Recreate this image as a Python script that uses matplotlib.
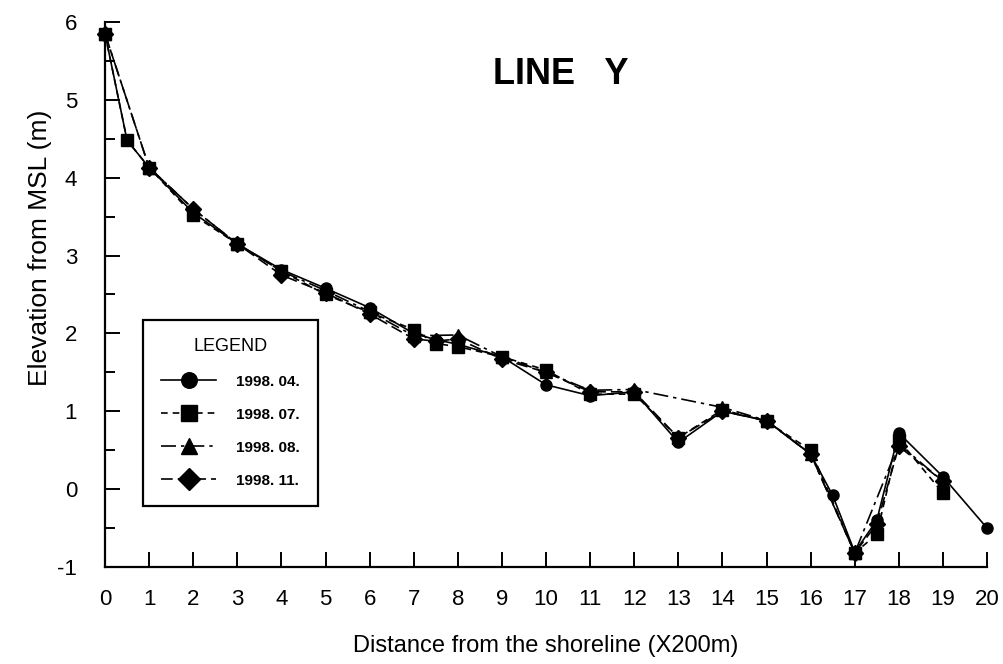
import matplotlib.pyplot as plt
from matplotlib.ticker import MultipleLocator

plt.rcParams['font.family'] = ['Liberation Sans', 'DejaVu Sans']
plt.rcParams['axes.unicode_minus'] = False

# Perfis de elevação ao longo da LINE Y (distância em unidades de 200 m)
x_0404 = [0, 0.5, 1, 2, 3, 4, 5, 6, 7, 7.5, 8, 9, 10, 11, 12, 13, 14, 15, 16, 16.5, 17, 17.5, 18, 19, 20]
y_0404 = [5.85, 4.48, 4.13, 3.55, 3.15, 2.82, 2.58, 2.33, 2.00, 1.92, 1.86, 1.70, 1.34, 1.20, 1.25,
          0.60, 1.00, 0.88, 0.45, -0.08, -0.81, -0.40, 0.72, 0.16, -0.50]

x_0707 = [0, 0.5, 1, 2, 3, 4, 5, 6, 7, 7.5, 8, 9, 10, 11, 12, 13, 14, 15, 16, 17, 17.5, 18, 19]
y_0707 = [5.85, 4.48, 4.13, 3.52, 3.15, 2.80, 2.50, 2.27, 2.05, 1.87, 1.83, 1.70, 1.53, 1.22,
          1.22, 0.66, 1.02, 0.87, 0.50, -0.82, -0.58, 0.63, -0.05]

x_0808 = [0, 1, 2, 3, 4, 5, 6, 7, 8, 9, 10, 11, 12, 14, 15, 16, 17, 18, 19]
y_0808 = [5.85, 4.13, 3.60, 3.15, 2.80, 2.55, 2.28, 1.97, 1.98, 1.70, 1.50, 1.27, 1.28,
          1.05, 0.88, 0.45, -0.82, 0.58, 0.10]

x_1111 = [0, 1, 2, 3, 4, 5, 6, 7, 7.5, 8, 9, 10, 11, 12, 13, 14, 15, 16, 17, 17.5, 18, 19]
y_1111 = [5.85, 4.13, 3.60, 3.15, 2.75, 2.52, 2.25, 1.93, 1.90, 1.93, 1.67, 1.50, 1.25, 1.25,
          0.66, 1.00, 0.88, 0.45, -0.82, -0.45, 0.55, 0.10]

fig = plt.figure(figsize=(10.04, 6.64), dpi=100)
ax = fig.add_axes([0.1046, 0.1461, 0.8785, 0.8208])

estilo = dict(color='black', lw=1.2, ms=8, clip_on=False)
ax.plot(x_0404, y_0404, marker='o', linestyle='-', label='1998. 04.', **estilo)
ax.plot(x_0808, y_0808, marker='^', linestyle=(0, (9, 3, 2, 3)), label='1998. 08.', **estilo)
ax.plot(x_1111, y_1111, marker='D', linestyle=(0, (7, 3)), label='1998. 11.', **estilo)
ax.plot(x_0707, y_0707, marker='s', linestyle=(0, (4, 3)), label='1998. 07.', **estilo)

ax.set_xlim(0, 20)
ax.set_ylim(-1, 6)
ax.xaxis.set_major_locator(MultipleLocator(1))
ax.yaxis.set_major_locator(MultipleLocator(1))
ax.yaxis.set_minor_locator(MultipleLocator(0.5))
ax.tick_params(axis='both', which='major', direction='in', length=11, width=1.4, labelsize=16)
ax.tick_params(axis='x', pad=16)
ax.tick_params(axis='y', pad=20)
ax.tick_params(axis='y', which='minor', direction='in', length=7, width=1.4)

for s in ['top', 'right']:
    ax.spines[s].set_visible(False)
for s in ['left', 'bottom']:
    ax.spines[s].set_linewidth(1.6)

ax.set_xlabel('Distance from the shoreline (X200m)', fontsize=17, labelpad=18)
ax.set_ylabel('Elevation from MSL (m)', fontsize=19)
ax.yaxis.set_label_coords(-0.06, 0.585)
ax.text(0.517, 0.903, 'LINE   Y', transform=ax.transAxes, fontsize=26, fontweight='bold',
        ha='center', va='center')

# Legenda na ordem das campanhas
h, l = ax.get_legend_handles_labels()
ordem = [0, 3, 1, 2]
leg = ax.legend([h[i] for i in ordem], [l[i] for i in ordem], title='LEGEND',
                loc='upper left', bbox_to_anchor=(0.043, 0.453),
                fancybox=False, framealpha=1, edgecolor='black',
                prop={'size': 11, 'weight': 'bold'}, title_fontsize=13,
                handlelength=3.6, handletextpad=1.3, labelspacing=1.25,
                markerscale=1.4, borderpad=1.2, borderaxespad=0)
leg.get_frame().set_linewidth(1.6)

plt.savefig('out.png', dpi=100)
